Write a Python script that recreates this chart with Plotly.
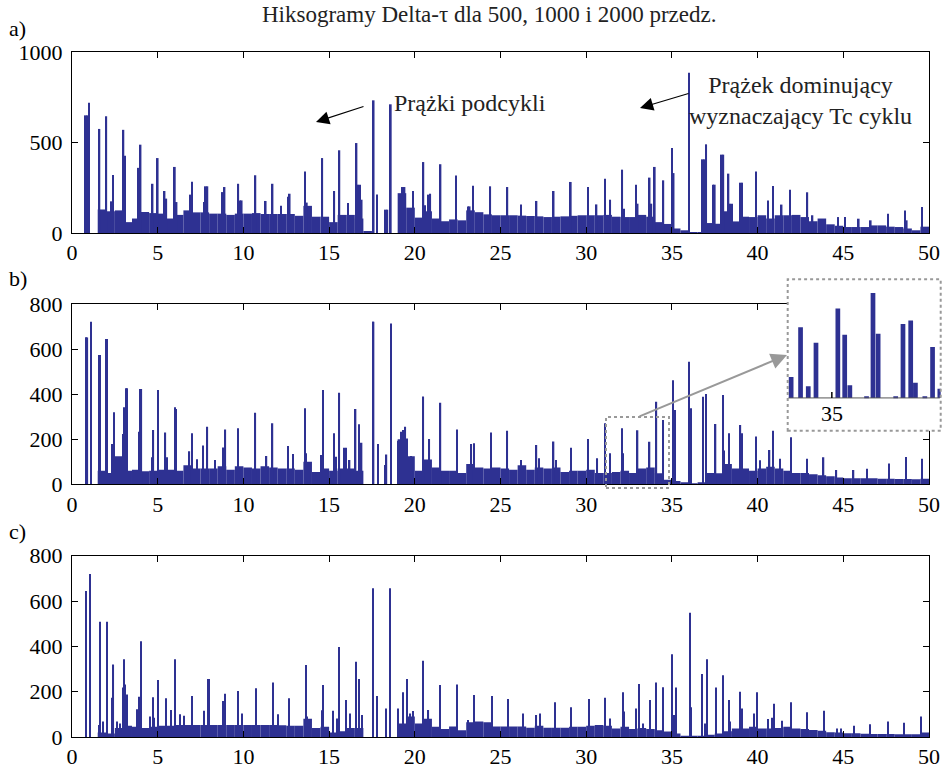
import plotly.graph_objects as go

W, H = 944, 769
BLUE = '#2e3192'
FONT = 'Liberation Serif'

# ---------------- data ----------------
x_ticks = [0, 5, 10, 15, 20, 25, 30, 35, 40, 45, 50]
y_ticks_a = [0, 500, 1000]
y_ticks_bc = [0, 200, 400, 600, 800]

# background level per 0.5-wide interval (0-0.5, 0.5-1.0, ... 49.5-50)
bg_a = [0, 0, 0, 130, 120, 125, 60, 80, 116, 110,
        107, 80, 100, 125, 114, 114, 107, 107, 100, 107,
        107, 110, 105, 105, 105, 105, 95, 150, 90, 90,
        60, 100, 100, 80, 10, 0, 0, 0, 220, 140,
        85, 120, 80, 65, 75, 70, 125, 115, 103, 98,
        98, 98, 96, 94, 92, 88, 90, 92, 95, 98,
        98, 98, 100, 90, 88, 88, 100, 90, 60, 50,
        25, 15, 5, 5, 55, 51, 120, 64, 90, 88,
        98, 80, 98, 98, 100, 88, 65, 80, 48, 40,
        33, 33, 33, 42, 42, 35, 33, 25, 15, 35]
bg_b = [0, 0, 0, 60, 50, 125, 60, 65, 58, 60,
        65, 65, 60, 85, 70, 70, 70, 80, 65, 80,
        75, 70, 80, 75, 70, 70, 65, 100, 55, 70,
        60, 70, 70, 60, 0, 0, 0, 0, 200, 125,
        60, 110, 75, 60, 60, 50, 90, 75, 70, 75,
        70, 65, 85, 65, 75, 70, 75, 55, 60, 60,
        65, 50, 50, 55, 60, 50, 70, 75, 49, 20,
        15, 5, 3, 5, 50, 49, 90, 70, 70, 60,
        70, 78, 70, 60, 50, 50, 45, 40, 36, 30,
        27, 27, 27, 27, 25, 25, 24, 24, 22, 25]
bg_c = [0, 0, 0, 20, 15, 40, 50, 45, 40, 45,
        50, 50, 53, 53, 53, 53, 53, 53, 53, 53,
        53, 53, 53, 53, 52, 50, 50, 80, 40, 45,
        20, 25, 40, 40, 0, 0, 0, 0, 60, 90,
        60, 80, 45, 35, 46, 30, 65, 68, 65, 46,
        46, 46, 46, 41, 50, 41, 41, 41, 45, 45,
        50, 53, 50, 38, 45, 35, 40, 35, 30, 24,
        15, 5, 3, 3, 10, 15, 25, 38, 38, 45,
        38, 38, 40, 45, 38, 35, 31, 28, 21, 20,
        16, 16, 14, 13, 13, 13, 12, 12, 12, 20]
bg_x = [0.25 + 0.5 * i for i in range(100)]

# prominent bins (position, count)
peak_x_a = [0.8, 0.9, 1.0, 1.6, 2.0, 2.3, 2.4, 3.0, 3.1, 3.9, 4.0, 4.7, 5.0, 5.4, 5.5,
            6.0, 6.1, 6.9, 7.0, 7.7, 7.8, 7.9, 8.8, 8.9, 9.7, 9.8, 9.9, 10.7, 11.3,
            11.7, 12.2, 12.6, 12.7, 13.6, 13.7, 14.6, 15.3, 15.6, 16.1, 16.6, 16.7,
            16.8, 16.9, 17.6, 17.8, 18.3, 18.4, 18.6, 19.3, 19.4, 19.9, 20.5, 20.6,
            20.8, 20.9, 21.5, 22.4, 23.1, 23.2, 23.4, 24.4, 25.4, 26.2, 27.1, 28.1,
            29.1, 30.1, 30.6, 31.1, 31.4, 32.1, 32.2, 32.9, 33.0, 33.7, 33.8, 34.0,
            34.5, 35.0, 35.1, 36.0, 36.8, 36.9, 37.0, 37.4, 37.5, 37.9, 38.0, 38.3,
            38.4, 38.5, 39.0, 39.1, 39.9, 40.6, 40.9, 41.4, 41.9, 42.9, 43.2, 44.7,
            45.1, 45.9, 46.6, 47.6, 48.6, 48.7, 49.6]
peak_h_a = [650, 650, 720, 575, 645, 175, 320, 570, 427, 360, 488, 272, 414, 232, 190,
            365, 171, 212, 283, 171, 258, 258, 226, 254, 272, 180, 180, 319, 177,
            272, 150, 200, 217, 340, 168, 414, 232, 457, 166, 497, 267,
            267, 184, 733, 213, 129, 129, 711, 254, 254, 232, 392, 153,
            212, 217, 380, 317, 147, 147, 261, 258, 254, 158, 177, 232,
            282, 254, 158, 300, 184, 350, 134, 267, 162, 306, 162, 365,
            291, 470, 331, 886, 407, 407, 490, 267, 267, 433, 433, 328,
            162, 162, 278, 278, 340, 180, 260, 157, 239, 225, 98, 88,
            88, 79, 70, 107, 125, 70, 144]

peak_x_b = [0.8, 0.85, 0.9, 1.1, 1.6, 1.65, 2.0, 2.05, 2.35, 2.45, 3.0, 3.05, 3.15, 3.2,
            3.9, 4.0, 4.05, 4.65, 4.75, 5.0, 5.45, 5.55, 6.0, 6.05, 6.85, 7.0, 7.3,
            7.65, 7.9, 8.35, 8.8, 8.95, 9.7, 10.7, 11.35, 11.7, 12.6, 12.9, 13.6,
            13.65, 14.55, 14.65, 15.3, 15.4, 15.6, 15.9, 16.0, 16.2, 16.55, 16.75,
            16.9, 17.55, 17.6, 17.85, 18.25, 18.35, 18.6, 19.05, 19.2, 19.3, 19.45,
            19.55, 19.8, 20.5, 20.85, 21.5, 22.45, 23.3, 23.45, 24.45, 25.4, 26.2,
            27.1, 27.25, 28.1, 28.25, 29.1, 30.1, 30.65, 31.1, 31.4, 32.1, 32.15,
            33.0, 33.7, 34.1, 34.5, 35.05, 35.2, 36.0, 36.1, 36.8, 37.0, 37.55,
            38.0, 38.05, 38.35, 39.0, 39.1, 39.9, 40.15, 40.7, 40.9, 41.3, 41.95,
            42.9, 43.85, 44.6, 45.6, 46.4, 47.65, 48.65, 49.6]
peak_h_b = [652, 652, 652, 723, 575, 575, 646, 646, 179, 320, 224, 342, 427, 427,
            234, 424, 424, 120, 241, 419, 230, 120, 342, 335, 147, 227, 111,
            172, 256, 108, 164, 244, 249, 318, 126, 271, 170, 135, 338,
            138, 130, 419, 227, 123, 407, 163, 163, 108, 335, 267,
            185, 723, 723, 179, 86, 133, 715, 194, 234, 241, 256,
            204, 126, 390, 201, 363, 244, 179, 182, 230, 238, 108,
            175, 116, 190, 108, 163, 201, 116, 271, 138, 249, 138,
            240, 189, 367, 286, 463, 330, 545, 338, 389, 401, 268,
            397, 150, 227, 264, 227, 212, 107, 152, 238, 114, 209,
            114, 120, 64, 64, 69, 93, 121, 114]

peak_x_c = [0.8, 1.05, 1.55, 1.63, 1.8, 2.05, 2.35, 2.42, 2.65, 2.8, 2.97, 3.03, 3.1,
            3.2, 3.8, 3.9, 4.03, 4.55, 4.7, 4.8, 5.0, 5.5, 5.75, 6.0, 6.3, 6.55, 7.0,
            7.7, 7.95, 8.0, 8.8, 8.92, 9.7, 9.9, 10.72, 11.72, 12.0, 12.65, 13.63,
            13.7, 14.6, 14.64, 15.25, 15.45, 15.6, 15.97, 16.2, 16.57, 16.75, 16.9,
            17.57, 17.8, 18.3, 18.56, 19.0, 19.3, 19.52, 19.75, 19.9, 20.5, 20.8,
            21.47, 22.46, 23.1, 23.46, 24.49, 25.44, 26.3, 27.1, 27.3, 28.18, 29.1,
            30.15, 31.1, 31.4, 32.14, 32.2, 32.9, 33.07, 33.3, 33.7, 34.06, 34.48,
            35.03, 35.1, 35.23, 36.03, 36.1, 36.77, 36.95, 37.05, 37.58, 38.0,
            38.32, 38.4, 38.96, 39.1, 39.8, 39.95, 40.6, 40.85, 40.96, 41.4, 41.94,
            42.86, 43.87, 44.61, 44.85, 45.62, 46.56, 47.59, 48.56, 49.51]
peak_h_c = [644, 719, 53, 509, 68, 509, 173, 320, 68, 60, 218, 343, 232,
            188, 123, 178, 423, 90, 175, 85, 251, 171, 119, 343, 100, 94, 181,
            116, 256, 256, 159, 191, 203, 104, 215, 241, 100, 171, 318,
            90, 118, 229, 116, 82, 397, 163, 104, 332, 256, 97,
            656, 181, 126, 656, 126, 197, 256, 104, 115, 337, 119,
            229, 232, 75, 185, 181, 168, 104, 97, 104, 153, 131,
            168, 173, 82, 197, 112, 126, 234, 60, 163, 241, 219,
            365, 97, 218, 548, 131, 278, 60, 343, 218, 272,
            163, 68, 200, 126, 104, 197, 79, 85, 147, 72, 153,
            109, 116, 38, 38, 50, 56, 68, 63, 90]

# magnified inset (panel b)
inset_x = [34.05, 34.27, 34.45, 34.63, 35.14, 35.30, 35.42, 35.81, 35.96, 36.08,
           36.49, 36.66, 36.84, 36.95, 37.17, 37.35, 37.52]
inset_h = [72, 244, 40, 190, 308, 218, 44, 6, 362, 221,
           6, 255, 267, 52, 5, 176, 32]
inset_xrange = [33.97, 37.54]
inset_yrange = [-113, 409]

# ---------------- figure ----------------
fig = go.Figure()

panels = [
    (bg_a, peak_x_a, peak_h_a, 0.1, 'x', 'y'),
    (bg_b, peak_x_b, peak_h_b, 0.08, 'x2', 'y2'),
    (bg_c, peak_x_c, peak_h_c, 0.065, 'x3', 'y3'),
]
for bg, pxs, phs, w, xa, ya in panels:
    fig.add_trace(go.Bar(x=bg_x, y=bg, width=0.5, xaxis=xa, yaxis=ya,
                         marker=dict(color=BLUE, line=dict(width=0)), hoverinfo='skip'))
    fig.add_trace(go.Bar(x=pxs, y=phs, width=w, xaxis=xa, yaxis=ya,
                         marker=dict(color=BLUE, line=dict(width=0)), hoverinfo='skip'))

# inset white background + bars
fig.add_trace(go.Bar(x=[(inset_xrange[0] + inset_xrange[1]) / 2],
                     y=[inset_yrange[1] - inset_yrange[0]], base=[inset_yrange[0]],
                     width=[inset_xrange[1] - inset_xrange[0]],
                     xaxis='x4', yaxis='y4', marker=dict(color='white', line=dict(width=0)),
                     hoverinfo='skip'))
fig.add_trace(go.Bar(x=inset_x, y=inset_h, width=0.11, xaxis='x4', yaxis='y4',
                     marker=dict(color=BLUE, line=dict(width=0)), hoverinfo='skip'))

XD = [72 / W, 929 / W]


def ydom(top, bottom):
    return [1 - bottom / H, 1 - top / H]


tickfont = dict(family=FONT, size=22, color='black')
common = dict(showline=True, linecolor='black', linewidth=1, mirror='ticks',
              ticks='inside', ticklen=6, tickwidth=1, tickcolor='black',
              showgrid=False, zeroline=False, tickfont=tickfont, automargin=False)

layout_axes = {}
for i, (yt, yr, top, bot) in enumerate([
        (y_ticks_a, [0, 1000], 52, 233),
        (y_ticks_bc, [0, 800], 304.3, 484.3),
        (y_ticks_bc, [0, 800], 555.7, 737)]):
    sfx = '' if i == 0 else str(i + 1)
    layout_axes['xaxis' + sfx] = dict(domain=XD, range=[0, 50], anchor='y' + sfx,
                                      tickvals=x_ticks, ticklabelstandoff=0, **common)
    layout_axes['yaxis' + sfx] = dict(domain=ydom(top, bot), range=yr, anchor='x' + sfx,
                                      tickvals=yt, ticklabelstandoff=4, **common)

layout_axes['xaxis4'] = dict(domain=[787.7 / W, 940.7 / W], range=inset_xrange,
                             anchor='y4', visible=False, automargin=False)
layout_axes['yaxis4'] = dict(domain=ydom(279.3, 430.7), range=inset_yrange,
                             anchor='x4', visible=False, automargin=False)

fig.update_layout(
    width=W, height=H, autosize=False,
    margin=dict(l=0, r=0, t=0, b=0, pad=0, autoexpand=False),
    paper_bgcolor='white', plot_bgcolor='white',
    barmode='overlay', showlegend=False,
    font=dict(family=FONT, size=22, color='black'),
    **layout_axes,
)

annotations = [
    dict(text='Hiksogramy Delta-τ dla 500, 1000 i 2000 przedz.', x=489 / W, y=1 - 14 / H,
         xref='paper', yref='paper', showarrow=False, xanchor='center', yanchor='middle',
         font=dict(family=FONT, size=23, color='#222')),
    dict(text='a)', x=7 / W, y=1 - 28 / H, xref='paper', yref='paper', showarrow=False,
         xanchor='left', yanchor='middle', font=dict(family=FONT, size=22)),
    dict(text='b)', x=7 / W, y=1 - 279 / H, xref='paper', yref='paper', showarrow=False,
         xanchor='left', yanchor='middle', font=dict(family=FONT, size=22)),
    dict(text='c)', x=7 / W, y=1 - 531 / H, xref='paper', yref='paper', showarrow=False,
         xanchor='left', yanchor='middle', font=dict(family=FONT, size=22)),
    dict(text='Prążki podcykli', x=392 / W, y=1 - 103 / H, xref='paper', yref='paper',
         showarrow=False, xanchor='left', yanchor='middle',
         font=dict(family=FONT, size=24, color='#222')),
    dict(text='Prążek dominujący<br>wyznaczający Tc cyklu', x=800 / W, y=1 - 101 / H,
         xref='paper', yref='paper', showarrow=False, xanchor='center', yanchor='middle',
         font=dict(family=FONT, size=24, color='#222')),
    dict(text='', x=316 / W, y=1 - 122 / H, xref='paper', yref='paper', showarrow=True,
         ax=49, ay=-16, arrowhead=2, arrowsize=2.2, arrowwidth=1.2, arrowcolor='black',
         standoff=0, startstandoff=0),
    dict(text='', x=640 / W, y=1 - 108 / H, xref='paper', yref='paper', showarrow=True,
         ax=50, ay=-15, arrowhead=2, arrowsize=2.2, arrowwidth=1.2, arrowcolor='black',
         standoff=0, startstandoff=0),
    dict(text='', x=787 / W, y=1 - 355 / H, xref='paper', yref='paper', showarrow=True,
         ax=-149, ay=62, arrowhead=2, arrowsize=1.6, arrowwidth=2, arrowcolor='#999999',
         standoff=0, startstandoff=0),
    dict(text='35', x=35, y=-52, xref='x4', yref='y4', showarrow=False,
         xanchor='center', yanchor='middle', font=dict(family=FONT, size=22)),
]

shapes = [
    dict(type='rect', xref='paper', yref='paper', x0=606 / W, x1=669 / W,
         y0=1 - 488 / H, y1=1 - 417 / H, line=dict(color='#999999', width=2, dash='dot'),
         fillcolor='rgba(0,0,0,0)', layer='above'),
    dict(type='rect', xref='paper', yref='paper', x0=787.7 / W, x1=940.7 / W,
         y0=1 - 430.7 / H, y1=1 - 279.3 / H, line=dict(color='#999999', width=2, dash='dot'),
         fillcolor='rgba(0,0,0,0)', layer='above'),
    dict(type='line', xref='x4', yref='y4', x0=inset_xrange[0] + 0.02, x1=inset_xrange[1] - 0.02,
         y0=0, y1=0, line=dict(color='#555555', width=1), layer='above'),
    dict(type='line', xref='x4', yref='y4', x0=35, x1=35, y0=0, y1=20,
         line=dict(color='black', width=1.5), layer='above'),
]

fig.update_layout(annotations=annotations, shapes=shapes)

fig.write_html('out.html', config={'displayModeBar': False},
               post_script="document.body.style.margin='0';")
